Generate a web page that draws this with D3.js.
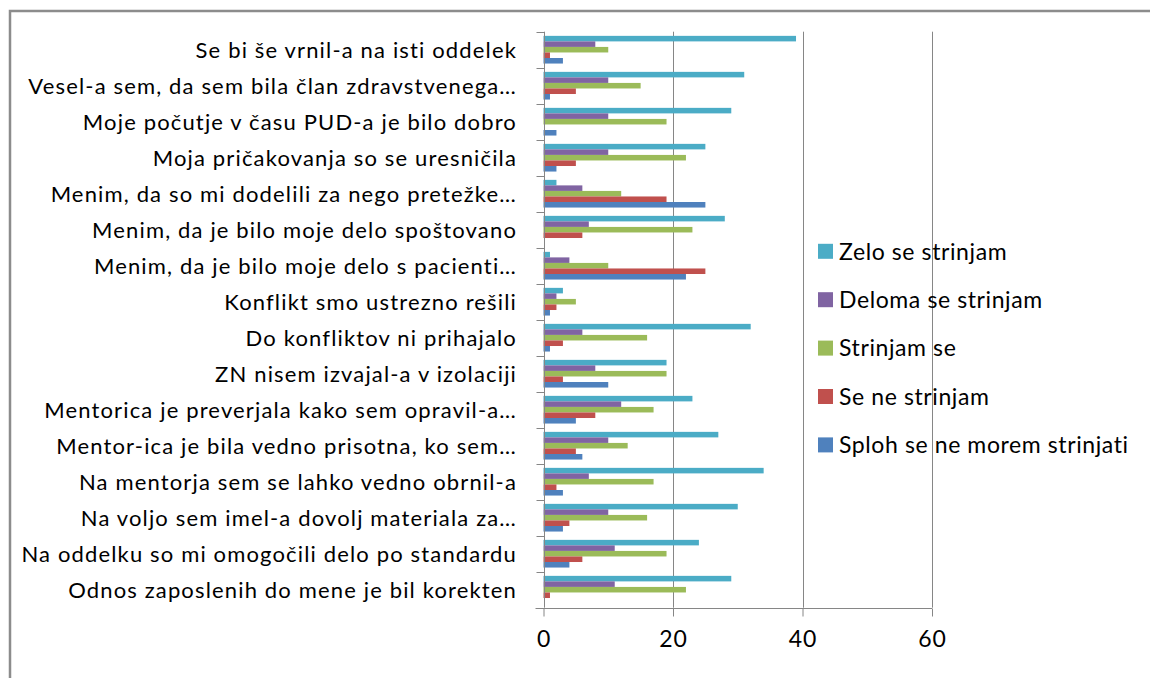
<!DOCTYPE html>
<html>
<head>
<meta charset="utf-8">
<script src="https://cdn.jsdelivr.net/npm/d3@7"></script>
<style>
  body { margin: 0; background: #fff; }
  text { font-family: Lato, "Open Sans", sans-serif; fill: #000; }
</style>
</head>
<body>
<div id="chart"></div>
<script>
"use strict";
(function() {

const WIDTH = 1150
const HEIGHT = 678

// categories, top to bottom as shown
const categories = [
    "Se bi še vrnil-a na isti oddelek",
    "Vesel-a sem, da sem bila član zdravstvenega…",
    "Moje počutje v času PUD-a je bilo dobro",
    "Moja pričakovanja so se uresničila",
    "Menim, da so mi dodelili za nego pretežke…",
    "Menim, da je bilo moje delo spoštovano",
    "Menim, da je bilo moje delo s pacienti…",
    "Konflikt smo ustrezno rešili",
    "Do konfliktov ni prihajalo",
    "ZN nisem izvajal-a v izolaciji",
    "Mentorica je preverjala kako sem opravil-a…",
    "Mentor-ica je bila vedno prisotna, ko sem…",
    "Na mentorja sem se lahko vedno obrnil-a",
    "Na voljo sem imel-a dovolj materiala za…",
    "Na oddelku so mi omogočili delo po standardu",
    "Odnos zaposlenih do mene je bil korekten"
]

const seriesNames = ["Zelo se strinjam", "Deloma se strinjam", "Strinjam se", "Se ne strinjam", "Sploh se ne morem strinjati"]
const seriesColors = ["#4BACC6", "#8064A2", "#9BBB59", "#C0504D", "#4F81BD"]

const zelo    = [39, 31, 29, 25, 2, 28, 1, 3, 32, 19, 23, 27, 34, 30, 24, 29]
const deloma  = [8, 10, 10, 10, 6, 7, 4, 2, 6, 8, 12, 10, 7, 10, 11, 11]
const strinjam = [10, 15, 19, 22, 12, 23, 10, 5, 16, 19, 17, 13, 17, 16, 19, 22]
const nestrinjam = [1, 5, 0, 5, 19, 6, 25, 2, 3, 3, 8, 5, 2, 4, 6, 1]
const sploh   = [3, 1, 2, 2, 25, 0, 22, 1, 1, 10, 5, 6, 3, 3, 4, 0]

const seriesValues = [zelo, deloma, strinjam, nestrinjam, sploh]
const xTicks = [0, 20, 40, 60]

const svg = d3.select("#chart").append("svg")
    .attr("width", WIDTH)
    .attr("height", HEIGHT)

// outer chart border
svg.append("path")
    .attr("d", "M10,690 L10,11 L1160,11")
    .attr("fill", "none")
    .attr("stroke", "#8c8c8c")
    .attr("stroke-width", 2.5)

const x = d3.scaleLinear().domain([0, 60]).range([543.5, 932])
const y = d3.scaleBand().domain(categories).range([31.7, 607.7])
const ySub = d3.scaleBand().domain(d3.range(seriesNames.length))
    .range([0, y.bandwidth()]).paddingOuter(0.75).paddingInner(0)

// gridlines
svg.append("g").selectAll("line")
    .data(xTicks.slice(1))
    .join("line")
    .attr("x1", d => Math.round(x(d)) + 0.5)
    .attr("x2", d => Math.round(x(d)) + 0.5)
    .attr("y1", y.range()[0])
    .attr("y2", y.range()[1])
    .attr("stroke", "#868686")
    .attr("stroke-width", 1)

// bars
categories.forEach((cat, i) => {
    const g = svg.append("g").attr("transform", `translate(0,${y(cat)})`)
    seriesValues.forEach((vals, s) => {
        if (vals[i] <= 0) return
        g.append("rect")
            .attr("x", x(0))
            .attr("y", ySub(s))
            .attr("width", x(vals[i]) - x(0))
            .attr("height", ySub.bandwidth())
            .attr("fill", seriesColors[s])
    })
})

// y axis (category)
const yAxis = svg.append("g")
    .attr("transform", `translate(${Math.round(x(0)) + 0.5},0)`)
yAxis.append("line")
    .attr("y1", y.range()[0]).attr("y2", y.range()[1])
    .attr("stroke", "#868686")
yAxis.selectAll("line.tick")
    .data(d3.range(categories.length + 1))
    .join("line")
    .attr("class", "tick")
    .attr("x1", -8).attr("x2", 0)
    .attr("y1", d => Math.round(y.range()[0] + d * y.step()) + 0.5)
    .attr("y2", d => Math.round(y.range()[0] + d * y.step()) + 0.5)
    .attr("stroke", "#868686")

svg.append("g").selectAll("text")
    .data(categories)
    .join("text")
    .attr("x", 517)
    .attr("y", d => y(d) + y.bandwidth() / 2)
    .attr("dy", "0.36em")
    .attr("text-anchor", "end")
    .attr("font-size", "22px")
    .attr("letter-spacing", "1.15px")
    .text(d => d)

// x axis (value)
const xAxis = d3.axisBottom(x).tickValues(xTicks).tickSize(8).tickPadding(14)
const xg = svg.append("g")
    .attr("transform", `translate(0,${Math.round(y.range()[1]) + 0.5})`)
    .call(xAxis)
xg.select(".domain").remove()
xg.append("line")
    .attr("x1", x(0) - 8).attr("x2", x(60))
    .attr("stroke", "#868686")
xg.selectAll(".tick line").attr("stroke", "#868686")
xg.selectAll(".tick text")
    .attr("font-size", "23px")
    .attr("font-family", "Lato, sans-serif")
    .attr("letter-spacing", "0.8px")
    .attr("fill", "#000")

// legend
const legend = svg.append("g")
legend.selectAll("rect")
    .data(seriesNames)
    .join("rect")
    .attr("x", 818)
    .attr("y", (d, i) => 251.3 + i * 48.4 - 7.5)
    .attr("width", 15)
    .attr("height", 15)
    .attr("fill", (d, i) => seriesColors[i])
legend.selectAll("text")
    .data(seriesNames)
    .join("text")
    .attr("x", 839)
    .attr("y", (d, i) => 251.3 + i * 48.4)
    .attr("dy", "0.36em")
    .attr("font-size", "23px")
    .attr("letter-spacing", "0.6px")
    .text(d => d)

})();
</script>
</body>
</html>
